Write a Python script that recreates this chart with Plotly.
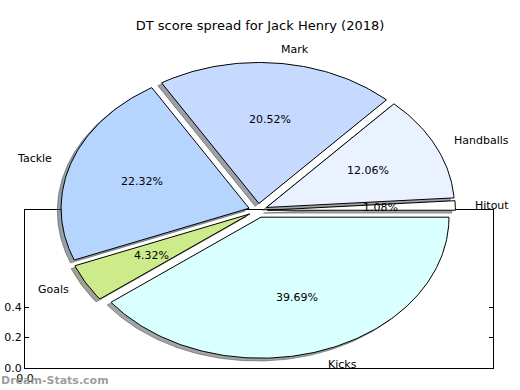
import numpy as np
import plotly.graph_objects as go

# ---- data ----
labels = ["Hitout", "Handballs", "Mark", "Tackle", "Goals", "Kicks"]
values = [1.08, 12.06, 20.52, 22.32, 4.32, 39.69]
colors = ["#FFFFFF", "#EAF1FF", "#C6D9FF", "#B5D5FF", "#CDEB8B", "#D9FFFF"]
explode = [0.05, 0.05, 0.05, 0.05, 0.05, 0.05]
box_yticks = [0.0, 0.2, 0.4]
box_xticks = [0.0]
title_text = "DT score spread for Jack Henry (2018)"
watermark = "Dream-Stats.com"

W, H = 520, 390
FONT = "DejaVu Sans"

# pie geometry (data units, like matplotlib: radius 1)
cx_px, cy_px = 258.0, 210.5
rx_px, ry_px = 188.0, 141.0
x2_range = [-cx_px / rx_px, (W - cx_px) / rx_px]
y2_range = [-(H - cy_px) / ry_px, cy_px / ry_px]

fig = go.Figure()

# empty trace so the box subplot (x/y) is drawn
fig.add_trace(go.Scatter(x=[None], y=[None], xaxis="x", yaxis="y", mode="markers",
                         hoverinfo="skip", showlegend=False))

vals = np.array(values, dtype=float)
fracs = vals / vals.sum()
starts = np.concatenate([[0.0], np.cumsum(fracs)[:-1]]) * 360.0
ends = np.cumsum(fracs) * 360.0


def wedge(t1, t2, ox, oy):
    n = max(int((t2 - t1) / 1.0) + 2, 4)
    th = np.radians(np.linspace(t1, t2, n))
    xs = np.concatenate([[ox], ox + np.cos(th), [ox]])
    ys = np.concatenate([[oy], oy + np.sin(th), [oy]])
    return xs, ys


def hex_rgb(h):
    h = h.lstrip("#")
    return tuple(int(h[i:i + 2], 16) for i in (0, 2, 4))


# shadows first
for lab, c, e, t1, t2 in zip(labels, colors, explode, starts, ends):
    mid = np.radians((t1 + t2) / 2)
    ox, oy = e * np.cos(mid), e * np.sin(mid)
    xs, ys = wedge(t1, t2, ox - 0.02, oy - 0.02)
    r, g, b = hex_rgb(c)
    sc = "rgba(%d,%d,%d,0.5)" % (0.3 * r, 0.3 * g, 0.3 * b)
    fig.add_trace(go.Scatter(x=xs, y=ys, xaxis="x2", yaxis="y2", mode="lines",
                             fill="toself", fillcolor=sc,
                             line=dict(color=sc, width=1),
                             hoverinfo="skip", showlegend=False))

# wedges
for lab, c, e, t1, t2 in zip(labels, colors, explode, starts, ends):
    mid = np.radians((t1 + t2) / 2)
    ox, oy = e * np.cos(mid), e * np.sin(mid)
    xs, ys = wedge(t1, t2, ox, oy)
    fig.add_trace(go.Scatter(x=xs, y=ys, xaxis="x2", yaxis="y2", mode="lines",
                             fill="toself", fillcolor=c,
                             line=dict(color="black", width=1),
                             name=lab, showlegend=False))

annotations = []
for lab, v, e, t1, t2 in zip(labels, values, explode, starts, ends):
    mid = np.radians((t1 + t2) / 2)
    lx = (e + 1.1) * np.cos(mid)
    ly = (e + 1.1) * np.sin(mid)
    annotations.append(dict(x=lx, y=ly, xref="x2", yref="y2", text=lab,
                            showarrow=False, xanchor="left" if lx > 0 else "right",
                            yanchor="middle", borderpad=0,
                            font=dict(family=FONT, size=11, color="black")))
    px = (e + 0.6) * np.cos(mid)
    py = (e + 0.6) * np.sin(mid)
    annotations.append(dict(x=px, y=py, xref="x2", yref="y2", text="%1.2f%%" % v,
                            showarrow=False, xanchor="center", yanchor="middle",
                            borderpad=0,
                            font=dict(family=FONT, size=11, color="black")))

annotations.append(dict(x=0, y=(H - 380) / H, xref="paper", yref="paper",
                        text="<b>%s</b>" % watermark, showarrow=False,
                        xanchor="left", yanchor="middle", borderpad=0,
                        font=dict(family=FONT, size=11, color="rgba(140,140,140,0.85)")))

# box axes (first subplot)
box_top, box_bot = 210.0, 368.0
px_per_02 = 30.5
ymax = (box_bot - box_top) / px_per_02 * 0.2
fig.update_layout(
    width=W, height=H,
    margin=dict(l=0, r=0, t=0, b=0, autoexpand=False),
    paper_bgcolor="white", plot_bgcolor="rgba(0,0,0,0)",
    showlegend=False,
    title=dict(text=title_text, x=0.5, xanchor="center", y=1 - 25 / H,
               yanchor="middle", yref="container", automargin=False,
               font=dict(family=FONT, size=13, color="black")),
    xaxis=dict(domain=[25 / W, 493 / W], range=[0, 1], tickvals=box_xticks,
               ticktext=["%.1f" % t for t in box_xticks], showgrid=False,
               zeroline=False, showline=True, mirror=True, linecolor="black",
               linewidth=1, ticks="inside", ticklen=4, tickcolor="black",
               automargin=False,
               tickfont=dict(family=FONT, size=11, color="black"), fixedrange=True),
    yaxis=dict(domain=[(H - box_bot) / H, (H - box_top) / H], range=[0, ymax],
               tickvals=box_yticks, ticktext=["%.1f" % t for t in box_yticks],
               showgrid=False, zeroline=False, showline=True, mirror="ticks",
               linecolor="black", linewidth=1, ticks="inside", ticklen=4,
               automargin=False,
               tickcolor="black", tickfont=dict(family=FONT, size=11, color="black"),
               fixedrange=True),
    xaxis2=dict(domain=[0, 1], range=x2_range, visible=False, anchor="y2",
                automargin=False, fixedrange=True),
    yaxis2=dict(domain=[0, 1], range=y2_range, visible=False, anchor="x2",
                automargin=False, fixedrange=True),
    annotations=annotations,
)

fig.write_html("out.html", config={"displayModeBar": False},
               post_script="document.body.style.margin='0';")
